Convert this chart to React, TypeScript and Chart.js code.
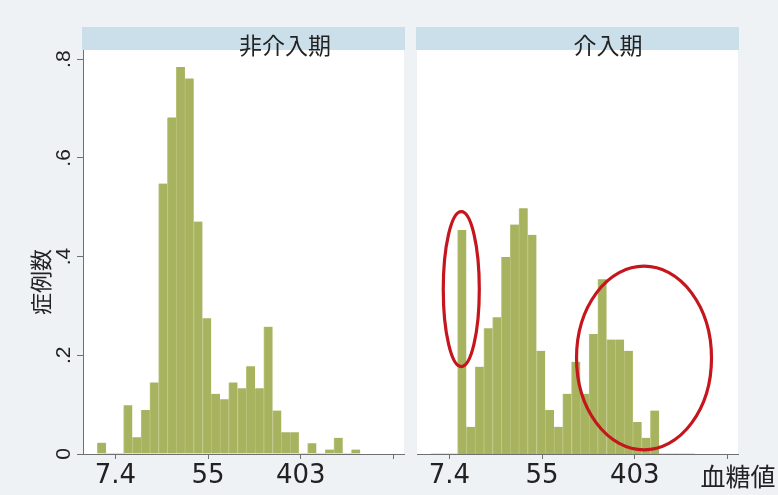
import React, { useEffect, useRef } from "react";
import { Chart, registerables } from "chart.js";

Chart.register(...registerables);

// Histogram bins on ln(blood glucose): common bins for both panels
const BIN_START = 1.609; // ln(5)
const BIN_WIDTH = 0.1892;

// density per bin
const nonInterventionValues = [
  0.023, 0, 0, 0.099, 0.034, 0.089, 0.145, 0.548, 0.682, 0.784,
  0.761, 0.471, 0.275, 0.122, 0.111, 0.145, 0.133, 0.178, 0.133, 0.258,
  0.088, 0.044, 0.044, 0, 0.022, 0, 0.009, 0.033, 0, 0.009,
];
const interventionValues = [
  0, 0, 0, 0.454, 0.055, 0.177, 0.255, 0.277, 0.399, 0.465,
  0.498, 0.444, 0.209, 0.089, 0.055, 0.122, 0.187, 0.122, 0.243, 0.354,
  0.232, 0.232, 0.209, 0.065, 0.033, 0.088, 0, 0, 0, 0,
];

const xTickValues = [2, 4, 6, 8];
const xTickLabels = ["7.4", "55", "403", ""];
const yTickValues = [0, 0.2, 0.4, 0.6, 0.8];
const yTickLabels = ["0", ".2", ".4", ".6", ".8"];
const panelTitles = ["非介入期", "介入期"];
const yTitle = "症例数";
const xTitle = "血糖値";

// red highlight ellipses on the intervention panel (data coordinates)
const interventionEllipses = [
  { cx: 2.256, cy: 0.334, rx: 0.389, ry: 0.157 },
  { cx: 6.201, cy: 0.1945, rx: 1.457, ry: 0.186 },
];

const X_MIN = 1.3;
const X_MAX = 8.23;
const Y_MAX = 0.8186;

const BAR_COLOR = "#A8B35F";
const SEAM_COLOR = "#B9C27A";
const AXIS_COLOR = "#6E7072";
const TEXT_COLOR = "#222222";
const STRIP_COLOR = "#CBDFEB";

type TextItem = { text: string; x: number; y: number; size: number; rotate?: boolean };

type PanelProps = {
  values: number[];
  title: string;
  titleX: number;
  showY: boolean;
  texts: TextItem[];
  ellipses: { cx: number; cy: number; rx: number; ry: number }[];
  left: number;
  width: number;
  padding: { left: number; right: number; top: number; bottom: number };
};

function Panel(props: PanelProps) {
  const ref = useRef<HTMLCanvasElement>(null);
  useEffect(() => {
    const { values, title, titleX, showY, texts, ellipses, padding } = props;
    const data = values.map((v, i) => ({ x: BIN_START + (i + 0.5) * BIN_WIDTH, y: v }));

    const panelPlugin = {
      id: "panelDecor",
      beforeDraw(chart: any) {
        const { ctx, chartArea } = chart;
        ctx.save();
        ctx.fillStyle = "#ffffff";
        ctx.fillRect(chartArea.left, chartArea.top, chartArea.right - chartArea.left, chartArea.bottom - chartArea.top);
        // strip
        ctx.fillStyle = STRIP_COLOR;
        ctx.fillRect(chartArea.left - 1, chartArea.top - 23, chartArea.right - chartArea.left + 2, 23);
        ctx.restore();
      },
      afterDraw(chart: any) {
        const { ctx } = chart;
        ctx.save();
        ctx.fillStyle = TEXT_COLOR;
        ctx.textAlign = "center";
        ctx.textBaseline = "middle";
        ctx.font = `23px "Noto Sans CJK JP", "Noto Sans CJK SC", sans-serif`;
        ctx.fillText(title, titleX, 45);
        texts.forEach((t) => {
          ctx.save();
          ctx.font = `${t.size}px "Noto Sans CJK JP", "Noto Sans CJK SC", sans-serif`;
          ctx.translate(t.x, t.y);
          if (t.rotate) ctx.rotate(-Math.PI / 2);
          ctx.fillText(t.text, 0, 0);
          ctx.restore();
        });
        // ellipses
        const xs = chart.scales.x;
        const ys = chart.scales.y;
        ctx.strokeStyle = "#C4161C";
        ctx.lineWidth = 3.2;
        ellipses.forEach((e) => {
          const px = xs.getPixelForValue(e.cx);
          const py = ys.getPixelForValue(e.cy);
          const rx = xs.getPixelForValue(e.cx + e.rx) - px;
          const ry = py - ys.getPixelForValue(e.cy + e.ry);
          ctx.beginPath();
          ctx.ellipse(px, py, rx, ry, 0, 0, Math.PI * 2);
          ctx.stroke();
        });
        ctx.restore();
      },
    };

    const chart = new Chart(ref.current as HTMLCanvasElement, {
      type: "bar",
      data: {
        datasets: [
          {
            data: data as any,
            backgroundColor: BAR_COLOR,
            borderColor: SEAM_COLOR,
            borderWidth: ((c: any) => (c.raw && c.raw.y > 0 ? { left: 1, right: 0, top: 0, bottom: 0 } : 0)) as any,
            borderSkipped: false,
            barPercentage: 1,
            categoryPercentage: 1,
          },
        ],
      },
      options: {
        responsive: false,
        animation: false,
        devicePixelRatio: 1,
        layout: { padding },
        plugins: { legend: { display: false }, tooltip: { enabled: false }, title: { display: false } },
        scales: {
          x: {
            type: "linear",
            min: X_MIN,
            max: X_MAX,
            offset: false,
            afterBuildTicks: (axis: any) => {
              axis.ticks = xTickValues.map((v) => ({ value: v }));
            },
            afterFit: (axis: any) => {
              axis.height = 41;
            },
            ticks: {
              autoSkip: false,
              maxRotation: 0,
              minRotation: 0,
              padding: 2,
              color: TEXT_COLOR,
              font: { family: "DejaVu Sans", size: 26 },
              callback: (v: any) => {
                const i = xTickValues.indexOf(Number(v));
                return i >= 0 ? xTickLabels[i] : "";
              },
            },
            grid: { drawOnChartArea: false, offset: false, tickLength: 5, color: AXIS_COLOR },
            border: { color: AXIS_COLOR, width: 1 },
          },
          y: {
            type: "linear",
            display: showY,
            min: 0,
            max: Y_MAX,
            afterBuildTicks: (axis: any) => {
              axis.ticks = yTickValues.map((v) => ({ value: v }));
            },
            afterFit: (axis: any) => {
              axis.width = showY ? 83 : 0;
            },
            ticks: {
              autoSkip: false,
              minRotation: 90,
              maxRotation: 90,
              crossAlign: "center",
              padding: 4,
              color: TEXT_COLOR,
              font: { family: "Liberation Sans", size: 21 },
              callback: (v: any) => {
                const i = yTickValues.findIndex((t) => Math.abs(t - Number(v)) < 1e-9);
                return i >= 0 ? yTickLabels[i] : "";
              },
            },
            grid: { drawOnChartArea: false, tickLength: 6, color: AXIS_COLOR },
            border: { color: AXIS_COLOR, width: 1 },
          },
        },
      } as any,
      plugins: [panelPlugin],
    });
    return () => chart.destroy();
  }, []);
  return (
    <div style={{ position: "absolute", left: props.left, top: 0, width: props.width, height: 495 }}>
      <canvas ref={ref} width={props.width} height={495} style={{ display: "block" }} />
    </div>
  );
}

export default function App() {
  return (
    <div
      style={{
        position: "fixed",
        left: 0,
        top: 0,
        width: 778,
        height: 495,
        background: "#EEF2F5",
        overflow: "hidden",
      }}
    >
      <Panel
        values={nonInterventionValues}
        title={panelTitles[0]}
        titleX={285}
        showY={true}
        texts={[{ text: yTitle, x: 41, y: 282, size: 22, rotate: true }]}
        ellipses={[]}
        left={0}
        width={410}
        padding={{ left: 0, right: 6, top: 50, bottom: 0 }}
      />
      <Panel
        values={interventionValues}
        title={panelTitles[1]}
        titleX={198}
        showY={false}
        texts={[{ text: xTitle, x: 328, y: 476, size: 25 }]}
        ellipses={interventionEllipses}
        left={410}
        width={368}
        padding={{ left: 7, right: 40, top: 50, bottom: 0 }}
      />
    </div>
  );
}
